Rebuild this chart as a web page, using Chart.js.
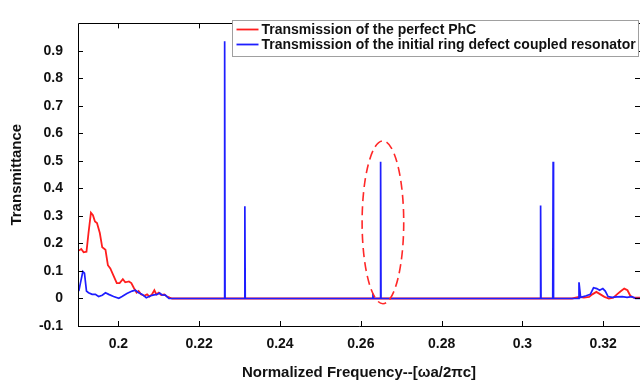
<!DOCTYPE html>
<html>
<head>
<meta charset="utf-8">
<script src="https://cdn.jsdelivr.net/npm/chart.js@4.4.1/dist/chart.umd.min.js"></script>
<style>
  html, body { margin: 0; padding: 0; background: #fff; }
  #wrap { width: 640px; height: 385px; }
</style>
</head>
<body>
<div id="wrap"><canvas id="chartTransmission"></canvas></div>
<script>
// Transmission of the perfect PhC (red)
var redFreq = [0.1902, 0.1908, 0.1914, 0.1921, 0.1926, 0.1932, 0.1937, 0.1942, 0.1947, 0.1954,
    0.1960, 0.1968, 0.1974, 0.1980, 0.1987, 0.1996, 0.2003, 0.2011, 0.2017, 0.2026,
    0.2032, 0.2038, 0.2045, 0.2050, 0.2056, 0.2064, 0.2071, 0.2077, 0.2083, 0.2089,
    0.2094, 0.2100, 0.2106, 0.2114, 0.2120, 0.2127, 0.2133, 0.2500, 0.3123, 0.3140,
    0.3152, 0.3165, 0.3173, 0.3183, 0.3193, 0.3203, 0.3214, 0.3225, 0.3234, 0.3244,
    0.3252, 0.3260, 0.3267, 0.3275, 0.3291];
var redT = [0.174, 0.180, 0.168, 0.170, 0.238, 0.312, 0.303, 0.280, 0.274, 0.238,
    0.186, 0.177, 0.121, 0.109, 0.086, 0.056, 0.056, 0.070, 0.059, 0.062,
    0.056, 0.039, 0.021, 0.027, 0.015, 0.010, 0.015, 0.007, 0.015, 0.030,
    0.015, 0.021, 0.013, 0.015, 0.007, 0.003, 0.000, 0.000, 0.000, 0.006,
    0.003, 0.006, 0.015, 0.024, 0.015, 0.006, 0.000, 0.003, 0.015, 0.027,
    0.036, 0.030, 0.010, 0.003, 0.003];

// Transmission of the initial ring defect coupled resonator (blue)
var blueFreq = [0.1902, 0.1906, 0.1912, 0.1916, 0.1921, 0.1926, 0.1935, 0.1943, 0.1951, 0.1960,
    0.1968, 0.1976, 0.1988, 0.2001, 0.2009, 0.2021, 0.2034, 0.2042, 0.2050, 0.2059,
    0.2069, 0.2080, 0.2088, 0.2096, 0.2102, 0.2108, 0.2116, 0.2125,
    0.2262, 0.2263, 0.2264, 0.2312, 0.2313, 0.2314,
    0.2628, 0.2630, 0.2632, 0.2648, 0.2649, 0.2650,
    0.3044, 0.3045, 0.3046, 0.3075, 0.3076, 0.3077, 0.3139, 0.3140, 0.3144,
    0.3158, 0.3168, 0.3176, 0.3184, 0.3191, 0.3199, 0.3205, 0.3212, 0.3222, 0.3234,
    0.3247, 0.3259, 0.3271, 0.3280, 0.3291];
var blueT = [0.027, 0.056, 0.098, 0.092, 0.027, 0.021, 0.015, 0.015, 0.007, 0.012,
    0.021, 0.015, 0.007, 0.001, 0.007, 0.018, 0.027, 0.030, 0.021, 0.015,
    0.003, 0.010, 0.013, 0.015, 0.020, 0.013, 0.012, 0.000,
    0.000, 0.935, 0.000, 0.000, 0.335, 0.000,
    0.000, 0.018, 0.000, 0.000, 0.497, 0.000,
    0.000, 0.338, 0.000, 0.000, 0.497, 0.000, 0.000, 0.059, 0.004,
    0.010, 0.015, 0.039, 0.036, 0.030, 0.036, 0.027, 0.007, 0.004, 0.006,
    0.007, 0.004, 0.007, 0.000, 0.000];

var xTicks = [0.2, 0.22, 0.24, 0.26, 0.28, 0.3, 0.32];
var yTicks = [-0.1, 0, 0.1, 0.2, 0.3, 0.4, 0.5, 0.6, 0.7, 0.8, 0.9];

// dashed ellipse marking the resonance (data units)
var ellipseCenter = [0.26547, 0.277];
var ellipseRadius = [0.00515, 0.296];

function toPoints(xs, ys) {
    var pts = [];
    for (var i = 0; i < xs.length; i++) pts.push({x: xs[i], y: ys[i]});
    return pts;
}

var fontName = "'Liberation Sans', Arial, sans-serif";

// box with inward tick marks on all four sides
var framePlugin = {
    id: 'frame',
    afterDatasetsDraw: function(chart) {
        var ctx = chart.ctx, a = chart.chartArea;
        var xs = chart.scales.x, ys = chart.scales.y;
        ctx.save();
        ctx.strokeStyle = '#000';
        ctx.lineWidth = 1;
        ctx.beginPath();
        ctx.rect(Math.round(a.left) + 0.5, Math.round(a.top) + 0.5,
            Math.round(a.right - a.left), Math.round(a.bottom - a.top));
        xTicks.forEach(function(v) {
            var px = Math.round(xs.getPixelForValue(v)) + 0.5;
            ctx.moveTo(px, a.bottom); ctx.lineTo(px, a.bottom - 5);
            ctx.moveTo(px, a.top); ctx.lineTo(px, a.top + 5);
        });
        yTicks.forEach(function(v) {
            var py = Math.round(ys.getPixelForValue(v)) + 0.5;
            ctx.moveTo(a.left, py); ctx.lineTo(a.left + 5, py);
            ctx.moveTo(a.right, py); ctx.lineTo(a.right - 5, py);
        });
        ctx.stroke();

        // dashed ellipse
        var cx = xs.getPixelForValue(ellipseCenter[0]);
        var cy = ys.getPixelForValue(ellipseCenter[1]);
        var rx = Math.abs(xs.getPixelForValue(ellipseCenter[0] + ellipseRadius[0]) - cx);
        var ry = Math.abs(ys.getPixelForValue(ellipseCenter[1] + ellipseRadius[1]) - cy);
        ctx.beginPath();
        ctx.setLineDash([9, 5]);
        ctx.strokeStyle = 'rgb(255,40,40)';
        ctx.lineWidth = 1.6;
        ctx.ellipse(cx, cy, rx, ry, 0, 0, Math.PI * 2);
        ctx.stroke();
        ctx.setLineDash([]);

        // legend box
        var lx = 232.5, ly = 20.5, lw = 406, lh = 36;
        ctx.fillStyle = '#fff';
        ctx.fillRect(lx, ly, lw, lh);
        ctx.strokeStyle = '#a0a0a0';
        ctx.lineWidth = 1;
        ctx.strokeRect(lx, ly, lw, lh);
        ctx.font = 'bold 14px ' + fontName;
        ctx.textBaseline = 'middle';
        ctx.textAlign = 'left';
        chart.data.datasets.forEach(function(ds, i) {
            var yy = ly + 9 + i * 15;
            ctx.strokeStyle = ds.borderColor;
            ctx.lineWidth = 1.8;
            ctx.beginPath();
            ctx.moveTo(lx + 4, yy); ctx.lineTo(lx + 26, yy);
            ctx.stroke();
            ctx.fillStyle = '#111';
            ctx.fillText(ds.label, lx + 29, yy + 1);
        });
        ctx.restore();
    }
};

var chart = new Chart(document.querySelector('#chartTransmission').getContext('2d'), {
    type: 'scatter',
    data: {
        datasets: [{
            label: 'Transmission of the perfect PhC',
            data: toPoints(redFreq, redT),
            borderColor: 'rgb(255,30,30)',
            borderWidth: 1.8,
            showLine: true,
            pointRadius: 0,
            tension: 0,
            order: 2
        }, {
            // blue drawn over red
            label: 'Transmission of the initial ring defect coupled resonator',
            data: toPoints(blueFreq, blueT),
            borderColor: 'rgb(30,30,255)',
            borderWidth: 1.7,
            showLine: true,
            pointRadius: 0,
            tension: 0,
            order: 1
        }]
    },
    options: {
        responsive: true,
        maintainAspectRatio: false,
        animation: false,
        layout: { padding: { top: 13, right: 0, bottom: 0, left: 0 } },
        plugins: { legend: { display: false }, tooltip: { enabled: false } },
        scales: {
            x: {
                type: 'linear',
                min: 0.19,
                max: 0.3291,
                afterFit: function(s) { s.height = 59; },
                afterBuildTicks: function(s) {
                    s.ticks = xTicks.map(function(v) { return {value: v}; });
                },
                grid: { display: false, drawTicks: false },
                border: { display: false },
                ticks: {
                    padding: 10,
                    color: '#111',
                    font: { family: fontName, size: 14, weight: 'bold' },
                    maxRotation: 0,
                    callback: function(v) { return String(Math.round(v * 100) / 100); }
                },
                title: {
                    display: true,
                    text: 'Normalized Frequency--[\u03c9a/2\u03c0c]',
                    color: '#111',
                    font: { family: fontName, size: 15, weight: 'bold' },
                    padding: { top: 4, bottom: 3 }
                }
            },
            y: {
                min: -0.1,
                max: 1.0,
                afterFit: function(s) { s.width = 78; },
                afterBuildTicks: function(s) {
                    s.ticks = yTicks.map(function(v) { return {value: v}; });
                },
                grid: { display: false, drawTicks: false },
                border: { display: false },
                ticks: {
                    padding: 15,
                    color: '#111',
                    font: { family: fontName, size: 14, weight: 'bold' },
                    callback: function(v) { return String(Math.round(v * 10) / 10); }
                },
                title: {
                    display: true,
                    text: 'Transmittance',
                    color: '#111',
                    font: { family: fontName, size: 15, weight: 'bold' },
                    padding: { top: 8, bottom: 4 }
                }
            }
        }
    },
    plugins: [framePlugin]
});
</script>
</body>
</html>
